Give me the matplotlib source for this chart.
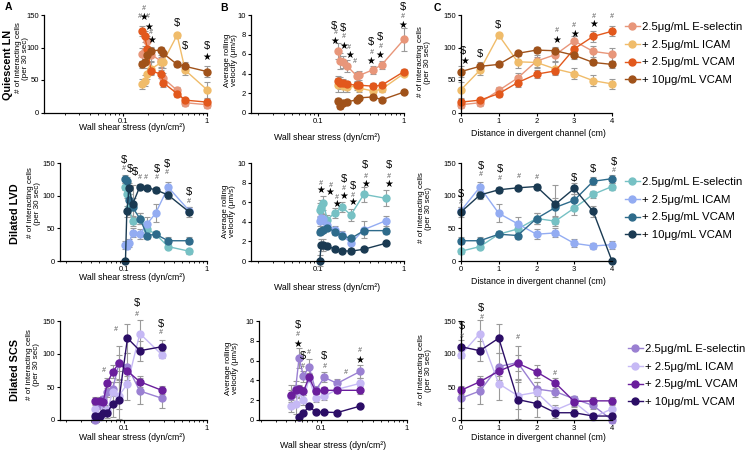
import numpy as np
import matplotlib
matplotlib.use('Agg')
from matplotlib import pyplot as plt
from matplotlib.ticker import LogLocator, NullFormatter

plt.rcParams['font.family'] = ['Liberation Sans', 'DejaVu Sans']

W, H = 749, 451

# distance along the divergent channel (cm) and matching wall shear stress per model
DISTANCE = [0, 0.5, 1, 1.5, 2, 2.5, 3, 3.5, 4]
LN_SHEAR = [1.0, 0.55, 0.44, 0.30, 0.285, 0.215, 0.195, 0.18, 0.17]
LVD_SHEAR = [0.61, 0.34, 0.24, 0.19, 0.155, 0.127, 0.115, 0.108, 0.104]
SCS_SHEAR = [0.285, 0.155, 0.11, 0.087, 0.073, 0.063, 0.056, 0.051, 0.045]

LABELS = ['2.5μg/mL E-selectin', '+ 2.5μg/mL ICAM', '+ 2.5μg/mL VCAM', '+ 10μg/mL VCAM']

# order: E-selectin, ICAM, VCAM 2.5, VCAM 10
LN_CELLS = [[12, 15, 34, 53, 79, 89, 110, 94, 90],
            [35, 65, 119, 78, 77, 67, 60, 49, 44],
            [16, 19, 29, 46, 59, 64, 98, 117, 125],
            [63, 71, 74, 91, 96, 95, 88, 77, 74]]
LN_CELLS_ERR = [[5, 5, 5, 8, 9, 10, 8, 8, 10],
                [12, 8, 4, 10, 8, 10, 8, 8, 8],
                [5, 4, 5, 6, 6, 5, 10, 8, 8],
                [8, 6, 4, 4, 5, 6, 5, 4, 5]]
LN_VEL = [[7.5, 4.9, 4.4, 3.8, 3.7, 4.8, 5.2, 5.3, 6.3],
          [4.0, 2.4, 2.2, 2.5, 2.7, 2.6, 2.7, 3.0, 2.8],
          [4.2, 2.8, 2.7, 2.8, 2.8, 2.9, 3.0, 3.0, 3.2],
          [2.1, 1.3, 1.6, 1.5, 1.3, 1.1, 1.0, 0.7, 1.2]]
LN_VEL_ERR = [[1.2, 0.4, 0.4, 0.5, 0.5, 0.6, 0.6, 0.8, 0.8],
              [0.3, 0.3, 0.3, 0.4, 0.4, 0.5, 0.6, 0.6, 0.7],
              [0.3, 0.3, 0.3, 0.3, 0.3, 0.3, 0.4, 0.4, 0.5],
              [0.2, 0.2, 0.2, 0.2, 0.2, 0.2, 0.2, 0.3, 0.3]]

LVD_CELLS = [[15, 22, 41, 49, 65, 61, 81, 102, 114],
             [77, 113, 73, 57, 41, 43, 27, 23, 25],
             [31, 31, 41, 39, 65, 82, 93, 122, 126],
             [75, 101, 109, 112, 114, 87, 111, 76, 0]]
LVD_CELLS_ERR = [[4, 4, 5, 8, 8, 8, 10, 5, 5],
                 [5, 8, 14, 10, 8, 7, 6, 4, 6],
                 [5, 5, 5, 5, 8, 15, 10, 6, 6],
                 [8, 6, 5, 4, 4, 30, 8, 8, 0]]
LVD_VEL = [[6.4, 6.8, 4.7, 5.5, 4.9, 4.2, 5.9, 5.5, 5.2],
           [4.1, 3.2, 1.8, 2.7, 3.2, 3.7, 4.3, 4.4, 4.1],
           [3.1, 3.1, 2.3, 2.6, 3.0, 3.4, 3.2, 3.1, 3.0],
           [1.8, 1.2, 1.0, 1.05, 1.2, 1.55, 1.65, 1.6, 0.05]]
LVD_VEL_ERR = [[0.8, 0.8, 0.6, 0.5, 0.5, 0.5, 0.7, 0.7, 0.7],
               [0.5, 0.9, 0.5, 0.4, 0.4, 0.4, 0.5, 0.5, 0.5],
               [0.3, 0.3, 0.3, 0.3, 0.3, 0.3, 0.3, 0.3, 0.3],
               [0.2, 0.2, 0.2, 0.2, 0.2, 0.3, 0.6, 0.6, 0.6]]

SCS_CELLS = [[33, 44, 81, 87, 47, 43, 32, 22, 0],
             [99, 131, 55, 37, 42, 15, 27, 4, 17],
             [45, 58, 74, 86, 73, 56, 28, 29, 29],
             [111, 105, 124, 31, 25, 11, 11, 6, 6]]
SCS_CELLS_ERR = [[15, 20, 20, 25, 10, 8, 5, 6, 5],
                 [5, 20, 25, 20, 15, 8, 6, 4, 8],
                 [6, 8, 8, 12, 10, 8, 8, 6, 6],
                 [10, 15, 22, 30, 20, 8, 5, 5, 5]]
SCS_VEL = [[4.9, 3.7, 4.3, 3.0, 5.4, 4.4, 6.3, 3.1, 2.4],
           [3.7, 3.1, 2.4, 2.2, 4.2, 2.0, 2.8, 1.6, 1.4],
           [3.0, 3.0, 3.0, 2.9, 4.3, 2.9, 3.1, 3.0, 2.5],
           [1.4, 0.75, 0.8, 0.8, 1.4, 0.7, 0.35, np.nan, np.nan]]
SCS_VEL_ERR = [[0.7, 0.4, 0.5, 0.4, 0.8, 0.6, 1.0, 0.8, 0.6],
               [0.5, 0.4, 0.4, 0.4, 0.4, 0.5, 0.6, 1.0, 0.6],
               [0.4, 0.3, 0.3, 0.3, 0.4, 0.4, 0.4, 0.5, 1.0],
               [0.2, 0.1, 0.1, 0.1, 0.2, 0.1, 0.1, 0, 0]]

# significance marks: (symbol, x, y)
LN_CELLS_MARKS = [('#', 0.175, 160), ('#', 0.158, 148), ('★', 0.175, 147), ('#', 0.195, 148),
                  ('★', 0.2, 132), ('#', 0.215, 123), ('★', 0.22, 111), ('$', 0.44, 137),
                  ('$', 0.54, 103), ('$', 1.0, 103), ('★', 1.0, 86)]
LN_VEL_MARKS = [('$', 0.154, 8.9), ('#', 0.16, 8.2), ('★', 0.157, 7.3),
                ('$', 0.196, 8.7), ('#', 0.2, 7.8), ('★', 0.2, 6.8),
                ('#', 0.23, 6.7), ('★', 0.23, 5.9), ('#', 0.27, 5.2),
                ('$', 0.41, 7.2), ('#', 0.42, 6.2), ('★', 0.41, 5.3),
                ('$', 0.52, 7.7), ('#', 0.53, 6.8), ('★', 0.52, 5.9),
                ('$', 0.96, 10.8), ('#', 0.98, 9.8), ('★', 0.96, 9.0)]
LN_DIST_MARKS = [('$', 0.06, 95), ('★', 0.09, 79), ('$', 0.5, 90), ('$', 0.97, 134),
                 ('#', 2.54, 126), ('★', 2.54, 112), ('#', 3.0, 134), ('★', 3.0, 121),
                 ('#', 3.52, 147), ('★', 3.52, 136), ('#', 4.0, 147)]
LVD_CELLS_MARKS = [('$', 0.1, 154), ('#', 0.1, 141), ('$', 0.118, 141), ('$', 0.135, 136),
                   ('#', 0.153, 128), ('#', 0.184, 128), ('$', 0.246, 141), ('#', 0.246, 128),
                   ('$', 0.325, 148), ('#', 0.325, 136), ('$', 0.61, 105), ('#', 0.61, 91)]
LVD_VEL_MARKS = [('#', 0.106, 7.9), ('★', 0.106, 7.3), ('#', 0.14, 7.7), ('★', 0.137, 7.0),
                 ('#', 0.164, 6.5), ('★', 0.164, 5.8), ('$', 0.197, 8.4), ('#', 0.197, 7.4),
                 ('★', 0.197, 6.6), ('$', 0.254, 7.7), ('#', 0.254, 6.7), ('★', 0.254, 6.0),
                 ('$', 0.354, 9.75), ('#', 0.354, 8.6), ('★', 0.354, 7.9),
                 ('$', 0.66, 9.75), ('#', 0.66, 8.6), ('★', 0.66, 7.9)]
LVD_DIST_MARKS = [('$', 0.0, 102), ('#', 0.0, 90), ('$', 0.53, 145), ('#', 0.53, 132),
                  ('$', 1.04, 141), ('#', 1.04, 127), ('#', 1.53, 130), ('#', 2.02, 128),
                  ('$', 3.0, 127), ('$', 3.5, 141), ('$', 4.04, 151), ('#', 4.04, 138)]
SCS_CELLS_MARKS = [('#', 0.0567, 75), ('#', 0.0796, 137), ('$', 0.142, 177), ('#', 0.142, 160),
                   ('$', 0.278, 145), ('#', 0.278, 132)]
SCS_VEL_MARKS = [('$', 0.054, 9.6), ('#', 0.054, 8.6), ('★', 0.054, 7.7), ('$', 0.0613, 6.5),
                 ('#', 0.072, 6.8), ('#', 0.0613, 5.4), ('$', 0.11, 6.5), ('#', 0.11, 5.4),
                 ('#', 0.197, 4.8), ('#', 0.286, 7.0), ('★', 0.286, 6.1)]
SCS_DIST_MARKS = [('$', 0.03, 142), ('#', 0.03, 127), ('$', 0.54, 170), ('#', 0.54, 156),
                  ('#', 1.5, 125), ('#', 2.48, 71)]

LN_COLORS = ['#E8967A', '#F0BC6A', '#E2581C', '#A0521A']
LVD_COLORS = ['#76C1C4', '#93ACF2', '#2E6B8B', '#1A3A52']
SCS_COLORS = ['#9A80D2', '#C6B9F5', '#6A1E9C', '#2B0D66']


def box(l, t, r, b):
    return [l / W, 1 - b / H, (r - l) / W, (b - t) / H]


def style_axis(ax, log_xlim=None):
    for side in ('top', 'right'):
        ax.spines[side].set_visible(False)
    for side in ('left', 'bottom'):
        ax.spines[side].set_linewidth(0.9)
    ax.tick_params(direction='out', length=2.5, width=0.8, labelsize=5.5, pad=1.2)
    if log_xlim is not None:
        ax.set_xscale('log')
        ax.set_xlim(*log_xlim)
        ax.set_xticks([0.1, 1], labels=['0.1', '1'])
        ax.xaxis.set_minor_locator(LogLocator(base=10, subs=np.arange(2, 10), numticks=20))
        ax.xaxis.set_minor_formatter(NullFormatter())
        ax.tick_params(which='minor', length=1.6, width=0.6)


def draw_series(ax, x, ys, errs, colors):
    for y, e, c in zip(ys, errs, colors):
        ax.errorbar(x, y, yerr=e, color=c, marker='o', ms=5, lw=1,
                    ecolor='#9a9a9a', elinewidth=0.8, capsize=2, capthick=0.8,
                    clip_on=False)


def draw_marks(ax, marks):
    for s, x, y in marks:
        if s == '$':
            ax.text(x, y, s, fontsize=8, ha='center', va='center', clip_on=False)
        elif s == '#':
            ax.text(x, y, s, fontsize=5, style='italic', color='#555555',
                    ha='center', va='center', clip_on=False)
        else:
            ax.text(x, y, s, fontsize=7, ha='center', va='center', clip_on=False,
                    family='DejaVu Sans')


rows = [
    dict(name='Quiescent LN', shear=LN_SHEAR, cells=LN_CELLS, cells_err=LN_CELLS_ERR,
         vel=LN_VEL, vel_err=LN_VEL_ERR, colors=LN_COLORS,
         marks=(LN_CELLS_MARKS, LN_VEL_MARKS, LN_DIST_MARKS),
         ty=(15, 112.5), ax_a=(44, 207), ax_b=(251, 404),
         xlim_a=(0.01137, 1), xlim_b=(0.0164, 1),
         name_x=8, name_y=65, xlab_y=(128, 137, 133),
         ylab=((22, 58), (231, 60), (424, 62)), leg=(625, 22)),
    dict(name='Dilated LVD', shear=LVD_SHEAR, cells=LVD_CELLS, cells_err=LVD_CELLS_ERR,
         vel=LVD_VEL, vel_err=LVD_VEL_ERR, colors=LVD_COLORS,
         marks=(LVD_CELLS_MARKS, LVD_VEL_MARKS, LVD_DIST_MARKS),
         ty=(163, 261), ax_a=(60, 207), ax_b=(251, 404),
         xlim_a=(0.0169, 1), xlim_b=(0.0164, 1),
         name_x=15, name_y=214, xlab_y=(278, 287, 282),
         ylab=((34, 203), (229, 211), (425, 208)), leg=(625, 177)),
    dict(name='Dilated SCS', shear=SCS_SHEAR, cells=SCS_CELLS, cells_err=SCS_CELLS_ERR,
         vel=SCS_VEL, vel_err=SCS_VEL_ERR, colors=SCS_COLORS,
         marks=(SCS_CELLS_MARKS, SCS_VEL_MARKS, SCS_DIST_MARKS),
         ty=(321, 420), ax_a=(60, 207), ax_b=(259, 407),
         xlim_a=(0.0169, 1), xlim_b=(0.0192, 1),
         name_x=15, name_y=370, xlab_y=(437, 445, 438),
         ylab=((33, 365), (232, 368), (425, 370)), leg=(628, 344)),
]

fig = plt.figure(figsize=(W / 100, H / 100), dpi=100)

cells_label = '# of interacting cells\n(per 30 sec)'
vel_label = 'Average rolling\nvelocity (μm/s)'

for r in rows:
    top, bot = r['ty']
    ax_a = fig.add_axes(box(r['ax_a'][0], top, r['ax_a'][1], bot))
    ax_b = fig.add_axes(box(r['ax_b'][0], top, r['ax_b'][1], bot))
    ax_c = fig.add_axes(box(461, top, 612, bot))

    style_axis(ax_a, r['xlim_a'])
    ax_a.set_ylim(0, 150)
    ax_a.set_yticks([0, 50, 100, 150])
    draw_series(ax_a, r['shear'], r['cells'], r['cells_err'], r['colors'])
    draw_marks(ax_a, r['marks'][0])

    style_axis(ax_b, r['xlim_b'])
    ax_b.set_ylim(0, 10)
    ax_b.set_yticks([0, 2, 4, 6, 8, 10])
    draw_series(ax_b, r['shear'], r['vel'], r['vel_err'], r['colors'])
    draw_marks(ax_b, r['marks'][1])

    style_axis(ax_c)
    ax_c.set_xlim(0, 4)
    ax_c.set_ylim(0, 150)
    ax_c.set_xticks([0, 1, 2, 3, 4])
    ax_c.set_yticks([0, 50, 100, 150])
    draw_series(ax_c, DISTANCE, r['cells'], r['cells_err'], r['colors'])
    draw_marks(ax_c, r['marks'][2])

    handles = [plt.Line2D([], [], color=c, marker='o', ms=5, lw=1) for c in r['colors']]
    fig.legend(handles, LABELS, loc='upper left',
               bbox_to_anchor=(r['leg'][0] / W, 1 - r['leg'][1] / H),
               frameon=False, fontsize=8.2, handlelength=1.3, handletextpad=0.2,
               labelspacing=0.68, borderpad=0, borderaxespad=0)

    # text labels
    fig.text(r['name_x'] / W, 1 - r['name_y'] / H, r['name'], rotation=90, fontsize=7.8,
             fontweight='bold', ha='center', va='center')
    xl = r['xlab_y']
    fig.text(132 / W, 1 - xl[0] / H, 'Wall shear stress (dyn/cm²)', fontsize=6.3,
             ha='center', va='center')
    fig.text((r['ax_b'][0] + r['ax_b'][1]) / 2 / W, 1 - xl[1] / H,
             'Wall shear stress (dyn/cm²)', fontsize=6.3, ha='center', va='center')
    fig.text(538 / W, 1 - xl[2] / H, 'Distance in divergent channel (cm)', fontsize=6.3,
             ha='center', va='center')
    for (lx, ly), txt in zip(r['ylab'], [cells_label, vel_label, cells_label]):
        fig.text(lx / W, 1 - ly / H, txt, rotation=90, fontsize=5.8, ha='center',
                 va='center', multialignment='center', linespacing=1.1)

for letter, lx, ly in [('A', 8, 7), ('B', 224, 8), ('C', 437, 8)]:
    fig.text(lx / W, 1 - ly / H, letter, fontsize=7.5, fontweight='bold',
             ha='center', va='center')

fig.savefig('out.png', dpi=100)
